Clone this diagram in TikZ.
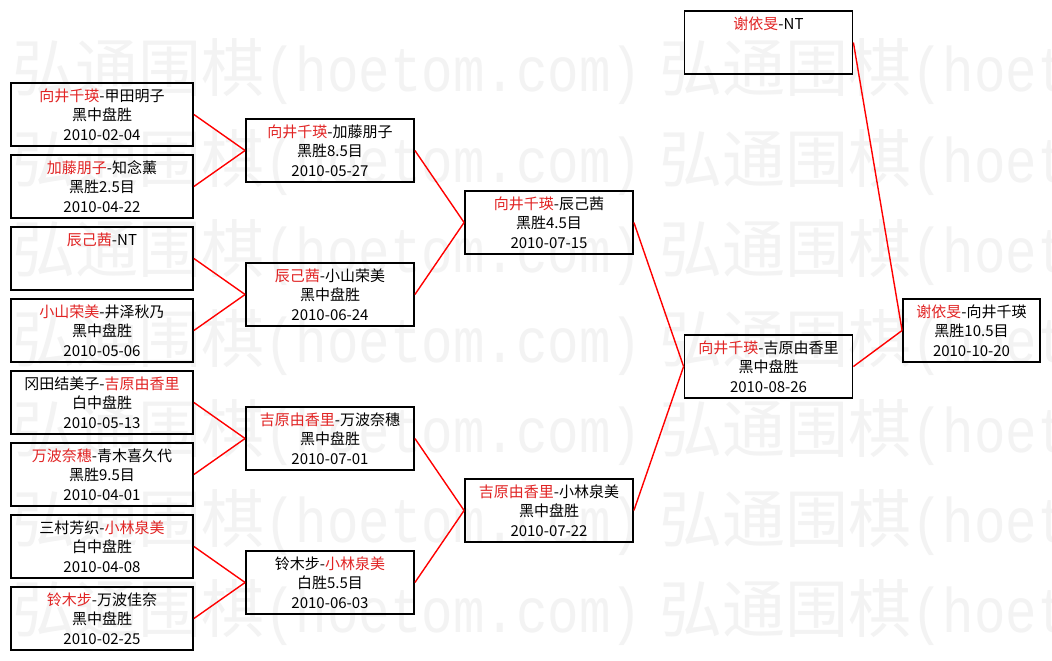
\documentclass[tikz,border=0pt]{standalone}
\usepackage{fontspec}
\usepackage{xcolor}
\usepackage{graphicx}
\usepackage{tikz}
\newfontfamily\cjkfont{Noto Sans CJK SC}
\newfontfamily\wmmono{Liberation Mono}
\definecolor{wred}{RGB}{225,35,35}
\definecolor{wmark}{RGB}{243,243,243}
\newcommand{\win}[1]{\textcolor{wred}{#1}}
\tikzset{
	game/.style={draw, line width=1.8pt, minimum width=#1, minimum height=63pt, inner sep=0pt, align=center, font={\cjkfont\fontsize{15}{19.5}\selectfont}},
	link/.style={red, line width=1.4pt},
	wm/.style={wmark, anchor=base west, inner sep=0pt, font={\cjkfont\fontsize{63}{63}\selectfont}}
}

\begin{document}
\begin{tikzpicture}[x=1pt,y=-1pt]
	\useasboundingbox (0,0) rectangle (1052,661);
	\fill[white] (0,0) rectangle (1052,661);
	
	% watermark
	\begin{scope}
		\clip (0,0) rectangle (1052,661);
		\foreach \r in {0,...,6}{
			\foreach \c in {0,1}{
				\node[wm] (wm-\r-\c) at ({12+647*\c},{92+90*\r}) {弘通围棋\scalebox{0.833}[1]{\wmmono(hoetom.com)}};
			}
		}
	\end{scope}
	
	% first round
	\node[game=182pt] (r1a) at (102,114.5) {\win{向井千瑛}-甲田明子\\黑中盘胜\\2010-02-04};
	\node[game=182pt] (r1b) at (102,186.5) {\win{加藤朋子}-知念薰\\黑胜2.5目\\2010-04-22};
	\node[game=182pt] (r1c) at (102,258.5) {\win{辰己茜}-NT\\\phantom{0}\\\phantom{0}};
	\node[game=182pt] (r1d) at (102,330.5) {\win{小山荣美}-井泽秋乃\\黑中盘胜\\2010-05-06};
	\node[game=182pt] (r1e) at (102,402.5) {冈田结美子-\win{吉原由香里}\\白中盘胜\\2010-05-13};
	\node[game=182pt] (r1f) at (102,474.5) {\win{万波奈穗}-青木喜久代\\黑胜9.5目\\2010-04-01};
	\node[game=182pt] (r1g) at (102,546.5) {三村芳织-\win{小林泉美}\\白中盘胜\\2010-04-08};
	\node[game=182pt] (r1h) at (102,618.5) {\win{铃木步}-万波佳奈\\黑中盘胜\\2010-02-25};
	
	% second round
	\node[game=168pt] (r2a) at (330,150.5) {\win{向井千瑛}-加藤朋子\\黑胜8.5目\\2010-05-27};
	\node[game=168pt] (r2b) at (330,294.5) {\win{辰己茜}-小山荣美\\黑中盘胜\\2010-06-24};
	\node[game=168pt] (r2c) at (330,438.5) {\win{吉原由香里}-万波奈穗\\黑中盘胜\\2010-07-01};
	\node[game=168pt] (r2d) at (330,582.5) {铃木步-\win{小林泉美}\\白胜5.5目\\2010-06-03};
	
	% semifinals
	\node[game=168pt] (r3a) at (549,222.5) {\win{向井千瑛}-辰己茜\\黑胜4.5目\\2010-07-15};
	\node[game=168pt] (r3b) at (549,510.5) {\win{吉原由香里}-小林泉美\\黑中盘胜\\2010-07-22};
	
	\node[game=168pt] (r4) at (768.5,366.5) {\win{向井千瑛}-吉原由香里\\黑中盘胜\\2010-08-26};
	\node[game=168pt] (seed) at (768.5,42.5) {\win{谢依旻}-NT\\\phantom{0}\\\phantom{0}};
	
	\node[game=137pt] (final) at (971.5,330.5) {\win{谢依旻}-向井千瑛\\黑胜10.5目\\2010-10-20};
	
	\foreach \a/\b in {r1a/r2a,r1b/r2a,r1c/r2b,r1d/r2b,r1e/r2c,r1f/r2c,r1g/r2d,r1h/r2d,r2a/r3a,r2b/r3a,r2c/r3b,r2d/r3b,r3a/r4,r3b/r4,r4/final,seed/final}{
		\draw[link] (\a.east) -- (\b.west);
	}
\end{tikzpicture}
\end{document}
